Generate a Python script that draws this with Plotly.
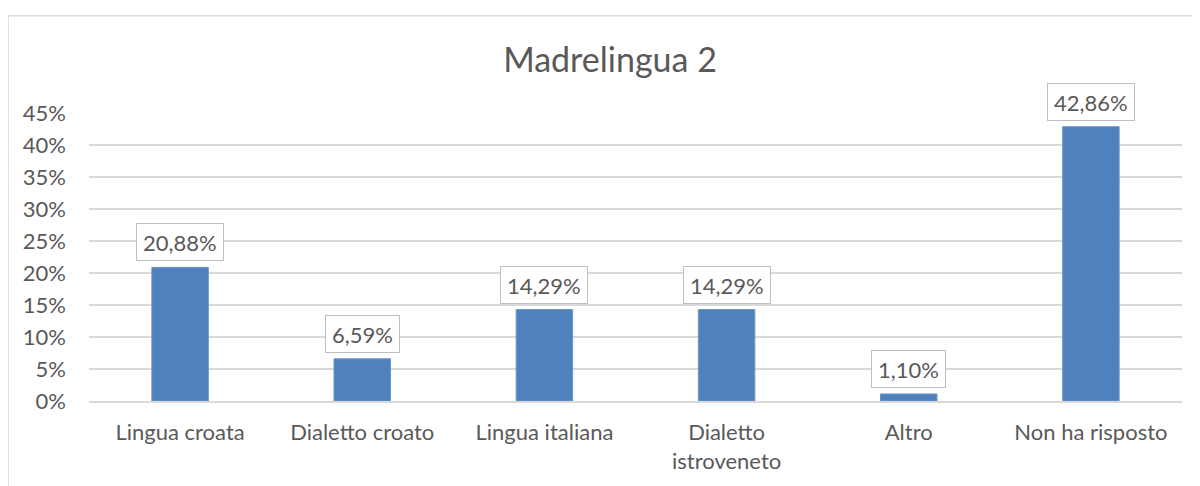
import plotly.graph_objects as go

categories = ["Lingua croata", "Dialetto croato", "Lingua italiana",
              "Dialetto<br>istroveneto", "Altro", "Non ha risposto"]
values = [20.88, 6.59, 14.29, 14.29, 1.10, 42.86]
value_labels = ["20,88%", "6,59%", "14,29%", "14,29%", "1,10%", "42,86%"]
tick_vals = [0, 5, 10, 15, 20, 25, 30, 35, 40, 45]
tick_text = ["0%", "5%", "10%", "15%", "20%", "25%", "30%", "35%", "40%", "45%"]
title_text = "Madrelingua 2"

FONT = "Lato"
TXT = "#595959"
GRID = "#D9D9D9"

# page body has an 8px margin: figure coordinates = screen - 8
OFF = 8
W, H = 1200 - OFF, 486 - OFF
L = 89 - OFF
T = 113 - OFF
R = W - (1182 - OFF)
B = H - (406 - OFF)
pw, ph = W - L - R, H - T - B

fig = go.Figure()
fig.add_trace(go.Bar(
    x=categories, y=values,
    marker=dict(color="#4F81BD", line=dict(color="#6A95CB", width=1)),
    width=0.31,
    hoverinfo="skip",
))

for c, v, t in zip(categories, values, value_labels):
    fig.add_annotation(
        x=c, y=v, text=t, showarrow=False, yanchor="bottom", yshift=6,
        font=dict(family=FONT, size=22, color=TXT), height=24,
        bgcolor="white", bordercolor="#BFBFBF", borderwidth=1, borderpad=6,
    )


def px_x(px):
    return (px - OFF - L) / pw


def px_y(py):
    return (H - B - (py - OFF)) / ph


fig.add_shape(type="rect", xref="paper", yref="paper",
              x0=px_x(8), x1=px_x(1260), y0=px_y(14), y1=px_y(560),
              line=dict(color=GRID, width=1.5), fillcolor="rgba(0,0,0,0)",
              layer="below")

fig.update_layout(
    width=W, height=H,
    margin=dict(l=L, r=R, t=T, b=B),
    paper_bgcolor="white", plot_bgcolor="white",
    showlegend=False,
    title=dict(text=title_text, x=(610 - OFF) / W, xanchor="center",
               y=1 - (60 - OFF) / H, yanchor="middle", yref="container",
               font=dict(family=FONT, size=34, color=TXT)),
    font=dict(family=FONT, color=TXT),
)
fig.update_xaxes(
    showgrid=False, showline=True, linecolor=GRID, linewidth=1.5,
    ticks="", tickfont=dict(family=FONT, size=22, color=TXT),
    ticklabelstandoff=11,
)
fig.update_yaxes(
    range=[0, 45], tickvals=tick_vals, ticktext=tick_text,
    showgrid=True, gridcolor=GRID, gridwidth=1.5, zeroline=False,
    showline=False, ticks="", ticklabelstandoff=22,
    tickfont=dict(family=FONT, size=22, color=TXT),
)

fig.write_html("out.html")
